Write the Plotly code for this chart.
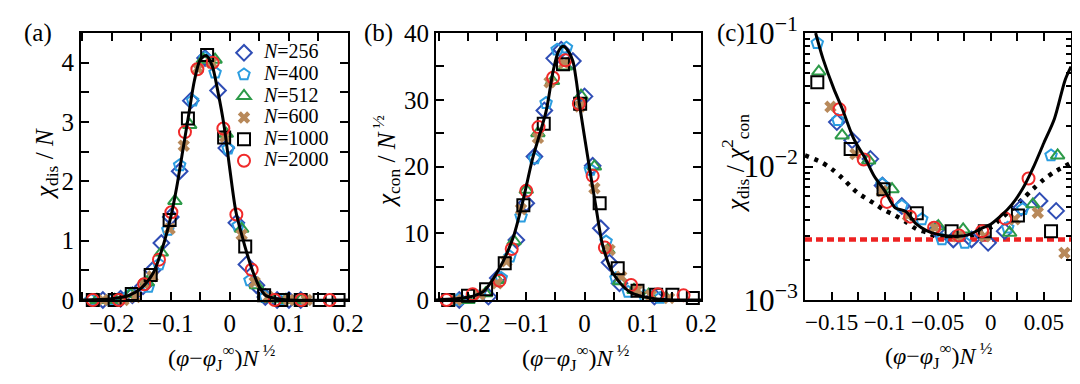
import plotly.graph_objects as go

FONT = "Liberation Serif"

# ---------------- data ----------------
N_labels = ["256", "400", "512", "600", "1000", "2000"]
symbols = ["diamond-open", "pentagon-open", "triangle-up-open", "x", "square-open", "circle-open"]
colors = ["#2f4db5", "#2b9de0", "#2c9a48", "#b8895a", "#000000", "#f02a2a"]

# panel (a): chi_dis / N
A256_x = [-0.215, -0.185, -0.165, -0.147, -0.131, -0.116, -0.100, -0.085, -0.066, -0.042, -0.020, -0.006, 0.011, 0.028, 0.045, 0.060, 0.080, 0.100, 0.120]
A256_y = [0.0, 0.02, 0.08, 0.23, 0.50, 0.96, 1.40, 2.17, 3.36, 4.08, 3.53, 2.56, 1.30, 0.60, 0.25, 0.05, 0.0, 0.0, 0.0]
A400_x = [-0.235, -0.200, -0.170, -0.138, -0.120, -0.105, -0.085, -0.063, -0.042, -0.025, -0.003, 0.014, 0.034, 0.060, 0.090, 0.118]
A400_y = [0.0, 0.0, 0.08, 0.22, 0.60, 1.18, 2.27, 3.36, 4.08, 3.83, 2.55, 1.25, 0.33, 0.05, 0.0, 0.0]
A512_x = [-0.225, -0.195, -0.168, -0.140, -0.116, -0.093, -0.068, -0.045, -0.025, -0.006, 0.020, 0.045, 0.070, 0.095, 0.120]
A512_y = [0.0, 0.0, 0.10, 0.30, 0.80, 1.67, 2.95, 4.05, 4.05, 2.80, 1.20, 0.25, 0.02, 0.0, 0.0]
A600_x = [-0.254, -0.215, -0.180, -0.160, -0.145, -0.131, -0.102, -0.078, -0.054, -0.031, -0.008, 0.020, 0.042, 0.065, 0.100, 0.130]
A600_y = [0.0, 0.0, 0.0, 0.05, 0.27, 0.40, 1.20, 2.60, 3.90, 4.00, 2.75, 1.10, 0.30, 0.05, 0.0, 0.0]
A1000_x = [-0.232, -0.195, -0.166, -0.134, -0.102, -0.071, -0.0385, -0.0097, 0.026, 0.058, 0.087, 0.120, 0.152, 0.184]
A1000_y = [0.0, 0.0, 0.10, 0.42, 1.35, 3.06, 4.13, 2.74, 0.90, 0.08, 0.0, 0.0, 0.0, 0.0]
A2000_x = [-0.232, -0.188, -0.145, -0.120, -0.099, -0.076, -0.055, -0.029, -0.011, 0.011, 0.037, 0.076, 0.121, 0.169]
A2000_y = [0.0, 0.0, 0.265, 0.68, 1.48, 2.83, 3.89, 4.00, 2.89, 1.44, 0.51, 0.0, 0.0, 0.0]
A_fit_x = [-0.25, -0.20, -0.17, -0.15, -0.13, -0.115, -0.10, -0.09, -0.08, -0.07, -0.06, -0.05, -0.04, -0.03, -0.02, -0.01, 0.0, 0.01, 0.02, 0.03, 0.04, 0.05, 0.06, 0.08, 0.10, 0.20]
A_fit_y = [0.0, 0.02, 0.08, 0.20, 0.45, 0.85, 1.40, 1.90, 2.50, 3.10, 3.70, 4.05, 4.12, 3.95, 3.50, 2.95, 2.20, 1.50, 1.10, 0.75, 0.45, 0.22, 0.08, 0.02, 0.0, 0.0]

# panel (b): chi_con / N^(1/2)
B256_x = [-0.215, -0.165, -0.149, -0.117, -0.100, -0.086, -0.069, -0.052, -0.040, -0.020, 0.000, 0.014, 0.028, 0.043, 0.060, 0.077, 0.094, 0.120]
B256_y = [0.0, 0.5, 3.3, 9.0, 14.5, 21.5, 28.4, 36.2, 37.5, 35.8, 30.5, 20.1, 10.75, 5.6, 2.5, -0.2, -0.2, 0.5]
B400_x = [-0.217, -0.180, -0.143, -0.128, -0.109, -0.086, -0.066, -0.047, -0.031, -0.010, 0.010, 0.037, 0.054, 0.075, 0.103, 0.130]
B400_y = [0.0, 0.6, 3.3, 6.5, 12.5, 21.2, 29.5, 37.5, 37.8, 29.5, 19.5, 8.75, 3.25, 1.2, 0.6, 0.3]
B512_x = [-0.200, -0.170, -0.150, -0.121, -0.100, -0.080, -0.055, -0.033, -0.006, 0.017, 0.040, 0.060, 0.085, 0.110, 0.140]
B512_y = [0.0, 1.0, 3.0, 8.8, 16.5, 25.0, 32.8, 35.0, 30.6, 20.0, 7.5, 2.8, 1.5, 0.8, 0.3]
B600_x = [-0.257, -0.220, -0.180, -0.150, -0.134, -0.109, -0.080, -0.060, -0.035, -0.008, 0.017, 0.043, 0.063, 0.090, 0.114, 0.145]
B600_y = [0.3, 0.0, 0.8, 2.5, 5.8, 13.6, 24.3, 32.6, 35.5, 29.0, 16.75, 7.5, 3.5, 1.5, 0.7, 0.3]
B1000_x = [-0.234, -0.200, -0.169, -0.137, -0.105, -0.070, -0.037, -0.0075, 0.026, 0.057, 0.091, 0.123, 0.151, 0.186]
B1000_y = [0.0, 0.65, 1.6, 5.5, 14.2, 26.4, 35.3, 29.4, 14.5, 4.75, 1.4, 0.8, 0.8, 0.3]
B2000_x = [-0.237, -0.192, -0.146, -0.125, -0.100, -0.079, -0.054, -0.033, -0.0097, 0.014, 0.035, 0.080, 0.126, 0.170]
B2000_y = [0.0, 0.85, 2.9, 7.65, 16.35, 25.9, 33.3, 35.9, 29.4, 18.6, 7.85, 2.25, 0.85, 0.7]
B_fit_x = [-0.255, -0.20, -0.174, -0.146, -0.123, -0.106, -0.089, -0.066, -0.054, -0.045, -0.037, -0.028, -0.020, -0.014, -0.0086, 0.0086, 0.020, 0.031, 0.049, 0.077, 0.12, 0.20]
B_fit_y = [0.0, 0.4, 1.25, 4.75, 9.25, 14.75, 21.25, 28.25, 34.25, 37.2, 38.0, 37.3, 35.8, 32.8, 29.25, 19.75, 13.75, 8.25, 4.0, 1.25, 0.2, 0.0]

# panel (c): chi_dis / chi_con^2
C256_x = [-0.145, -0.1306, -0.1134, -0.102, -0.0838, -0.051, -0.0353, -0.0181, -0.0025, 0.0131, 0.0287, 0.046, 0.0616]
C256_y = [0.0215, 0.0157, 0.0114, 0.0072, 0.00506, 0.00338, 0.00284, 0.00284, 0.00268, 0.00328, 0.00492, 0.00552, 0.00465]
C400_x = [-0.1634, -0.144, -0.1025, -0.0838, -0.065, -0.046, -0.0244, 0.016, 0.030, 0.0568]
C400_y = [0.084, 0.0222, 0.00738, 0.00506, 0.00402, 0.00284, 0.00268, 0.00348, 0.00479, 0.0121]
C512_x = [-0.162, -0.140, -0.115, -0.093, -0.0494, -0.026, 0.0178, 0.0397, 0.063]
C512_y = [0.0514, 0.0171, 0.0111, 0.00676, 0.00357, 0.00338, 0.00319, 0.00521, 0.0121]
C600_x = [-0.151, -0.1275, -0.1025, -0.078, -0.0525, -0.031, -0.0056, 0.0225, 0.0443, 0.0694]
C600_y = [0.028, 0.0124, 0.00656, 0.0043, 0.00348, 0.0030, 0.0030, 0.00402, 0.00451, 0.00225]
C1000_x = [-0.1634, -0.132, -0.101, -0.0697, -0.0369, -0.0056, 0.0256, 0.0568]
C1000_y = [0.0427, 0.01355, 0.00676, 0.00446, 0.00328, 0.00328, 0.0043, 0.00328]
C2000_x = [-0.1425, -0.1197, -0.0978, -0.076, -0.0534, -0.030, -0.0081, 0.0137, 0.0356]
C2000_y = [0.0268, 0.01127, 0.00543, 0.00421, 0.00348, 0.00304, 0.00328, 0.00407, 0.00813]
C_fit_x = [-0.165, -0.158, -0.148, -0.14, -0.129, -0.118, -0.11, -0.10, -0.09, -0.08, -0.07, -0.06, -0.05, -0.04, -0.03, -0.02, -0.01, 0.0, 0.01, 0.02, 0.03, 0.04, 0.05, 0.06, 0.07, 0.0756]
C_fit_y = [0.1, 0.064, 0.0385, 0.0272, 0.0161, 0.0114, 0.00853, 0.0066, 0.0049, 0.0046, 0.0037, 0.0033, 0.0031, 0.00302, 0.0030, 0.0031, 0.0034, 0.0037, 0.0043, 0.0052, 0.0068, 0.0098, 0.0150, 0.0228, 0.0443, 0.056]
C_dot_x = [-0.175, -0.16, -0.15, -0.14, -0.126, -0.11, -0.10, -0.09, -0.079, -0.07, -0.06, -0.05, -0.04, -0.03, -0.02, -0.01, 0.0, 0.01, 0.02, 0.03, 0.04, 0.05, 0.06, 0.075]
C_dot_y = [0.0121, 0.0108, 0.0096, 0.0082, 0.0064, 0.0053, 0.0047, 0.0043, 0.0038, 0.0034, 0.0032, 0.00295, 0.0029, 0.0029, 0.0030, 0.0032, 0.0035, 0.0041, 0.0048, 0.0057, 0.0068, 0.0080, 0.0091, 0.0106]
C_min_level = 0.00284

A_data = [(A256_x, A256_y), (A400_x, A400_y), (A512_x, A512_y), (A600_x, A600_y), (A1000_x, A1000_y), (A2000_x, A2000_y)]
B_data = [(B256_x, B256_y), (B400_x, B400_y), (B512_x, B512_y), (B600_x, B600_y), (B1000_x, B1000_y), (B2000_x, B2000_y)]
C_data = [(C256_x, C256_y), (C400_x, C400_y), (C512_x, C512_y), (C600_x, C600_y), (C1000_x, C1000_y), (C2000_x, C2000_y)]

xrange_a = [-0.252, 0.2]
xrange_b = [-0.255, 0.2]
xrange_c = [-0.175, 0.0756]

# ---------------- figure ----------------
fig = go.Figure()

def add_markers(data, xa, ya, legend):
    for i, (xs, ys) in enumerate(data):
        is_x = symbols[i] == "x"
        fig.add_trace(go.Scatter(
            x=xs, y=ys, mode="markers", xaxis=xa, yaxis=ya,
            name="<span style='font-size:20px'><i>N</i>=" + N_labels[i] + "</span>",
            showlegend=legend, cliponaxis=False,
            marker=dict(symbol=symbols[i], size=12 if not is_x else 11,
                        color=colors[i],
                        line=dict(width=0 if is_x else 2, color=colors[i])),
        ))

def add_line(xs, ys, xa, ya, dash="solid", width=3, color="black", shape="spline"):
    fig.add_trace(go.Scatter(x=xs, y=ys, mode="lines", xaxis=xa, yaxis=ya,
                             showlegend=False, hoverinfo="skip",
                             line=dict(color=color, width=width, dash=dash, shape=shape, smoothing=0.8)))

add_markers(A_data, "x", "y", True)
add_line(A_fit_x, A_fit_y, "x", "y")
add_markers(B_data, "x2", "y2", False)
add_line(B_fit_x, B_fit_y, "x2", "y2")
add_line(C_dot_x, C_dot_y, "x3", "y3", dash="4px,6px", width=4.5)
add_line(xrange_c, [C_min_level, C_min_level], "x3", "y3", dash="7px,4px", width=4.5, color="#ee2222", shape="linear")
add_markers(C_data, "x3", "y3", False)
add_line(C_fit_x, C_fit_y, "x3", "y3")

tickfont = dict(family=FONT, size=25, color="black")
base = dict(showline=True, linewidth=2, linecolor="black", mirror="ticks",
            ticks="inside", ticklen=8, tickwidth=1.8, tickcolor="black",
            showgrid=False, zeroline=False, tickfont=tickfont, fixedrange=True,
            automargin=False, tickangle=0)

def minor(dt, ln=8):
    return dict(dtick=dt, ticks="inside", ticklen=ln, tickwidth=1.8, tickcolor="black", showgrid=False)

yd = [1 - 292 / 384, 1 - 25 / 384]
fig.update_layout(
    width=1080, height=384, autosize=False,
    margin=dict(l=0, r=0, t=0, b=0, pad=0, autoexpand=False),
    paper_bgcolor="white", plot_bgcolor="white",
    font=dict(family=FONT, color="black"),
    xaxis=dict(base, domain=[73 / 1080, 340 / 1080], range=xrange_a, dtick=0.1, tick0=0, minor=minor(0.05), anchor="y"),
    yaxis=dict(base, domain=yd, range=[0, 4.5], dtick=1, tick0=0, minor=minor(0.5), anchor="x"),
    xaxis2=dict(base, domain=[428 / 1080, 693 / 1080], range=xrange_b, dtick=0.1, tick0=0, minor=minor(0.05), anchor="y2"),
    yaxis2=dict(base, domain=yd, range=[0, 40], dtick=10, tick0=0, minor=minor(5), anchor="x2"),
    xaxis3=dict(base, domain=[797 / 1080, 1063 / 1080], range=xrange_c, dtick=0.05, tick0=0,
                minor=minor(0.025), anchor="y3", tickfont=dict(family=FONT, size=23, color="black")),
    yaxis3=dict(base, domain=yd, type="log", range=[-3, -1], dtick=1, exponentformat="power",
                showexponent="all", minor=dict(dtick="D1", ticks="inside", ticklen=5, tickwidth=1.5,
                                               tickcolor="black", showgrid=False), anchor="x3"),
    legend=dict(x=216 / 1080, y=1 - 29 / 384, xanchor="left", yanchor="top",
                bgcolor="rgba(0,0,0,0)", font=dict(family=FONT, size=14.3, color="black"),
                tracegroupgap=0, itemclick=False, itemdoubleclick=False),
    showlegend=True,
)

xtitle = "(<i>φ</i>−<i>φ</i><sub>J</sub><sup>∞</sup>)<i>N</i><sup> ½</sup>"
ann = [
    ("(a)", 30, 25, 0, 25),
    ("(b)", 370, 25, 0, 25),
    ("(c)", 723, 25, 0, 25),
    (xtitle, 213, 350, 0, 24),
    (xtitle, 567, 350, 0, 24),
    (xtitle, 930, 348, 0, 24),
    ("<i>χ</i><sub>dis</sub> / <i>N</i>", 38, 156, -90, 25),
    ("<i>χ</i><sub>con</sub> / <i>N</i><sup> ½</sup>", 378, 153, -90, 25),
    ("<i>χ</i><sub>dis</sub> / <i>χ</i><sup>2</sup><sub>con</sub>", 727, 155, -90, 25),
]
for text, px, py, ang, fs in ann:
    fig.add_annotation(text=text, x=px / 1080, y=1 - py / 384, xref="paper", yref="paper",
                       xanchor="center", yanchor="middle", showarrow=False, textangle=ang,
                       font=dict(family=FONT, size=fs, color="black"))

fig.write_html("out.html")
